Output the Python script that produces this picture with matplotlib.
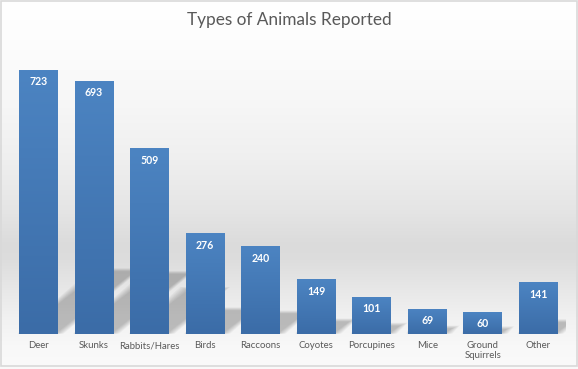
import numpy as np
import matplotlib
matplotlib.use("Agg")
import matplotlib.pyplot as plt
from matplotlib.patches import Polygon, Rectangle

categories = ["Deer", "Skunks", "Rabbits/Hares", "Birds", "Raccoons", "Coyotes",
              "Porcupines", "Mice", "Ground\nSquirrels", "Other"]
counts = [723, 693, 509, 276, 240, 149, 101, 69, 60, 141]
title = "Types of Animals Reported"

plt.rcParams['font.family'] = ['Lato', 'DejaVu Sans']

W, H = 578, 369
fig = plt.figure(figsize=(W / 100, H / 100), dpi=100)

# ---- background gradient (chart area) ----
bg = fig.add_axes([0, 0, 1, 1], zorder=-10)
stops_px = [0, 40, 100, 160, 210, 245, 260, 290, 320, 345, 369]
stops_v = [255, 253, 247, 239, 229, 219, 221, 232, 242, 248, 250]
prof = np.interp(np.arange(H), stops_px, stops_v) / 255.0
img = np.repeat(prof[:, None], 2, axis=1)
bg.imshow(np.dstack([img, img, img]), aspect='auto', extent=[0, 1, 0, 1],
          origin='upper', interpolation='bilinear')
bg.set_xlim(0, 1); bg.set_ylim(0, 1)
bg.set_axis_off()
bg.add_patch(Rectangle((0.5 / W, 3.5 / H), (W - 1.5) / W, (H - 4.5) / H,
                       transform=bg.transAxes, fill=False, ec='#d9d9d9', lw=1.2))

# ---- plot axes ----
ax = fig.add_axes([10.7 / W, 35.3 / H, (566.1 - 10.7) / W, (333.7 - 41.9) / H])
x = np.arange(len(categories))
bw = 0.7
ax.set_xlim(-0.5, len(categories) - 0.5)
ax.set_ylim(0, 800)
ax.patch.set_alpha(0)
for s in ax.spines.values():
    s.set_visible(False)

# shadows (perspective, blurred by layering)
for xi, v in zip(x, counts):
    dx = 0.00197 * v
    sh = 0.24 * v
    for e in np.linspace(-0.04, 0.10, 7):
        ey = e * 60
        poly = Polygon([(xi - bw / 2 - e * 0.3, 0), (xi + bw / 2 + e, 0),
                        (xi + bw / 2 + dx + e, sh + ey), (xi - bw / 2 + dx - e, sh + ey)],
                       closed=True, fc='black', ec='none', alpha=0.035, zorder=1)
        ax.add_patch(poly)

bars = ax.bar(x, counts, width=bw, color='#4579b5', zorder=2)
grad = np.linspace(0, 1, 100)[:, None]
top_c = np.array([0x4c, 0x84, 0xc2]) / 255
bot_c = np.array([0x3b, 0x6c, 0xa7]) / 255
gimg = top_c[None, None, :] * (1 - grad[..., None]) + bot_c[None, None, :] * grad[..., None]
gimg = np.repeat(gimg, 2, axis=1)
for b, v in zip(bars, counts):
    x0 = b.get_x()
    im = ax.imshow(gimg, extent=[x0, x0 + b.get_width(), 0, v], aspect='auto',
                   origin='upper', zorder=3, interpolation='bilinear')
    im.set_clip_path(b)
    ax.annotate(str(v), xy=(b.get_x() + b.get_width() / 2, v), xytext=(0, -12),
                textcoords='offset pixels', ha='center', va='center',
                color='white', fontsize=7.6, fontweight='bold', zorder=4)

ax.set_xlim(-0.5, len(categories) - 0.5)
ax.set_ylim(0, 800)
ax.set_yticks([])
ax.set_xticks(x)
ax.set_xticklabels(categories, color='#595959', fontsize=6.9)
ax.tick_params(axis='x', length=0, pad=5.5)
for t in ax.get_xticklabels():
    t.set_linespacing(1.15)

fig.text(0.5, 1 - 25 / H, title, ha='center', va='baseline',
         fontsize=12.4, color='#595959')

fig.savefig('out.png', dpi=100)
